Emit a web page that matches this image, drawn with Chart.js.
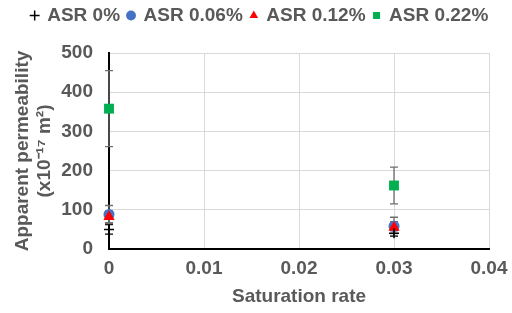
<!DOCTYPE html>
<html>
<head>
<meta charset="utf-8">
<script src="https://cdn.jsdelivr.net/npm/chart.js@4"></script>
<style>
  html, body { margin: 0; padding: 0; background: #fff; }
  #wrap { width: 512px; height: 313px; }
</style>
</head>
<body>
<div id="wrap"><canvas id="chart" width="512" height="313"></canvas></div>
<script>
var saturation = [0, 0.03];
var asr0 = [50, 40];
var asr0Err = [12, 7];
var asr006 = [88, 58];
var asr006Err = [23, 23];
var asr012 = [82, 55];
var asr012Err = [15, 15];
var asr022 = [358, 162];
var asr022Err = [97, 47];
var xTicks = [0, 0.01, 0.02, 0.03, 0.04];
var yTicks = [0, 100, 200, 300, 400, 500];

function pts(vals) {
  var out = [];
  for (var i = 0; i < vals.length; i++) out.push({x: saturation[i], y: vals[i]});
  return out;
}

var textColor = '#595959';
var font = {family: "'Liberation Sans', Arial, sans-serif", size: 19, weight: 'bold'};

// error bars drawn behind the markers
var errorBars = {
  id: 'errorBars',
  beforeDatasetsDraw: function (chart) {
    var ctx = chart.ctx;
    var xs = chart.scales.x, ys = chart.scales.y;
    chart.data.datasets.forEach(function (ds) {
      if (!ds.err) return;
      ctx.save();
      ctx.strokeStyle = ds.errColor;
      ctx.lineWidth = 1.3;
      for (var i = 0; i < ds.data.length; i++) {
        var px = xs.getPixelForValue(ds.data[i].x);
        var top = ys.getPixelForValue(ds.data[i].y + ds.err[i]);
        var bot = ys.getPixelForValue(ds.data[i].y - ds.err[i]);
        ctx.beginPath();
        ctx.moveTo(px, top); ctx.lineTo(px, bot);
        ctx.moveTo(px - 4, top); ctx.lineTo(px + 4, top);
        ctx.moveTo(px - 4, bot); ctx.lineTo(px + 4, bot);
        ctx.stroke();
      }
      ctx.restore();
    });
  }
};

// leave more room under the legend
var legendSpace = {
  id: 'legendSpace',
  beforeLayout: function (chart) {
    var lg = chart.legend;
    if (!lg || lg._patched) return;
    var fit = lg.fit;
    lg.fit = function () { fit.call(this); this.height += 18; };
    lg._patched = true;
  }
};

new Chart(document.getElementById('chart').getContext('2d'), {
  type: 'scatter',
  data: {
    datasets: [
      {label: 'ASR 0%', data: pts(asr0), err: asr0Err, errColor: '#000000', order: 1,
       pointStyle: 'cross', radius: 5, borderColor: '#000000', backgroundColor: '#000000', borderWidth: 1.5},
      {label: 'ASR 0.06%', data: pts(asr006), err: asr006Err, errColor: '#6f6f6f', order: 3,
       pointStyle: 'circle', radius: 5.5, borderColor: '#4472C4', backgroundColor: '#4472C4', borderWidth: 0},
      {label: 'ASR 0.12%', data: pts(asr012), err: asr012Err, errColor: '#6f6f6f', order: 2,
       pointStyle: 'triangle', radius: 6.5, borderColor: '#FF0000', backgroundColor: '#FF0000', borderWidth: 0},
      {label: 'ASR 0.22%', data: pts(asr022), err: asr022Err, errColor: '#6f6f6f', order: 4,
       pointStyle: 'rect', radius: 7, borderColor: '#00B050', backgroundColor: '#00B050', borderWidth: 0}
    ]
  },
  options: {
    responsive: false,
    animation: false,
    clip: false,
    layout: {padding: {left: 8, right: 0, top: -2, bottom: 0}},
    plugins: {
      tooltip: {enabled: false},
      legend: {
        position: 'top',
        labels: {
          usePointStyle: true, boxWidth: 6, boxHeight: 7, padding: 8,
          color: textColor, font: font,
          sort: function (a, b) { return a.datasetIndex - b.datasetIndex; }
        }
      }
    },
    scales: {
      x: {
        type: 'linear', min: 0, max: 0.04,
        afterBuildTicks: function (s) { s.ticks = xTicks.map(function (v) { return {value: v}; }); },
        afterFit: function (s) { s.height = 64; s.paddingRight = 23; },
        ticks: {color: textColor, font: font, padding: 8,
                callback: function (v) { return v === 0 ? '0' : v.toFixed(2); }},
        grid: {color: '#d9d9d9', drawTicks: false},
        border: {color: '#000000', width: 2},
        title: {display: true, text: 'Saturation rate', color: textColor, font: font, padding: {top: 2, bottom: 5}}
      },
      y: {
        type: 'linear', min: 0, max: 500,
        afterBuildTicks: function (s) { s.ticks = yTicks.map(function (v) { return {value: v}; }); },
        afterFit: function (s) { s.width = 101; },
        ticks: {color: textColor, font: font, padding: 16},
        grid: {color: '#d9d9d9', drawTicks: false},
        border: {color: '#000000', width: 2},
        title: {display: true, text: ['Apparent permeability', '(x10\u207B\u00B9\u2077 m\u00B2)'],
                color: textColor, font: font, padding: {top: 3, bottom: 2}}
      }
    }
  },
  plugins: [errorBars, legendSpace]
});
</script>
</body>
</html>
